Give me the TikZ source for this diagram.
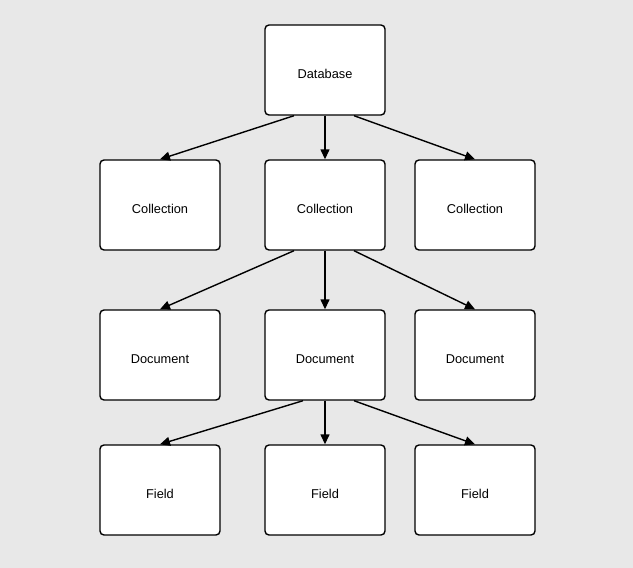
\documentclass[tikz,border=0pt]{standalone}
\usepackage{fontspec}
\setmainfont{Liberation Sans}
\usetikzlibrary{arrows.meta}
\definecolor{bg}{HTML}{E8E8E8}
\newcommand{\lowered}[1]{\raisebox{-8.5pt}[0pt][0pt]{#1}}
\begin{document}
\begin{tikzpicture}[x=1pt,y=-1pt,
  box/.style={draw=black,fill=white,line width=1.4pt,rounded corners=4pt,minimum width=120pt,minimum height=90pt,inner sep=0pt,font=\fontsize{12.8}{15}\selectfont},
  conn/.style={line width=1.4pt,-{Triangle[length=10pt,width=9pt]}}]
\fill[bg] (0,0) rectangle (633,568);
\useasboundingbox (0,0) rectangle (633,568);
\node[box] (db) at (325,70) {\lowered{Database}};
\node[box] (c1) at (160,205) {\lowered{Collection}};
\node[box] (c2) at (325,205) {\lowered{Collection}};
\node[box] (c3) at (475,205) {\lowered{Collection}};
\node[box] (d1) at (160,355) {\lowered{Document}};
\node[box] (d2) at (325,355) {\lowered{Document}};
\node[box] (d3) at (475,355) {\lowered{Document}};
\node[box] (f1) at (160,490) {\lowered{Field}};
\node[box] (f2) at (325,490) {\lowered{Field}};
\node[box] (f3) at (475,490) {\lowered{Field}};
\draw[conn] ([xshift=-31pt]db.south) -- (c1.north);
\draw[conn] (db.south) -- (c2.north);
\draw[conn] ([xshift=29pt]db.south) -- (c3.north);
\draw[conn] ([xshift=-31pt]c2.south) -- (d1.north);
\draw[conn] (c2.south) -- (d2.north);
\draw[conn] ([xshift=29pt]c2.south) -- (d3.north);
\draw[conn] ([xshift=-22pt]d2.south) -- (f1.north);
\draw[conn] (d2.south) -- (f2.north);
\draw[conn] ([xshift=29pt]d2.south) -- (f3.north);
\end{tikzpicture}
\end{document}
